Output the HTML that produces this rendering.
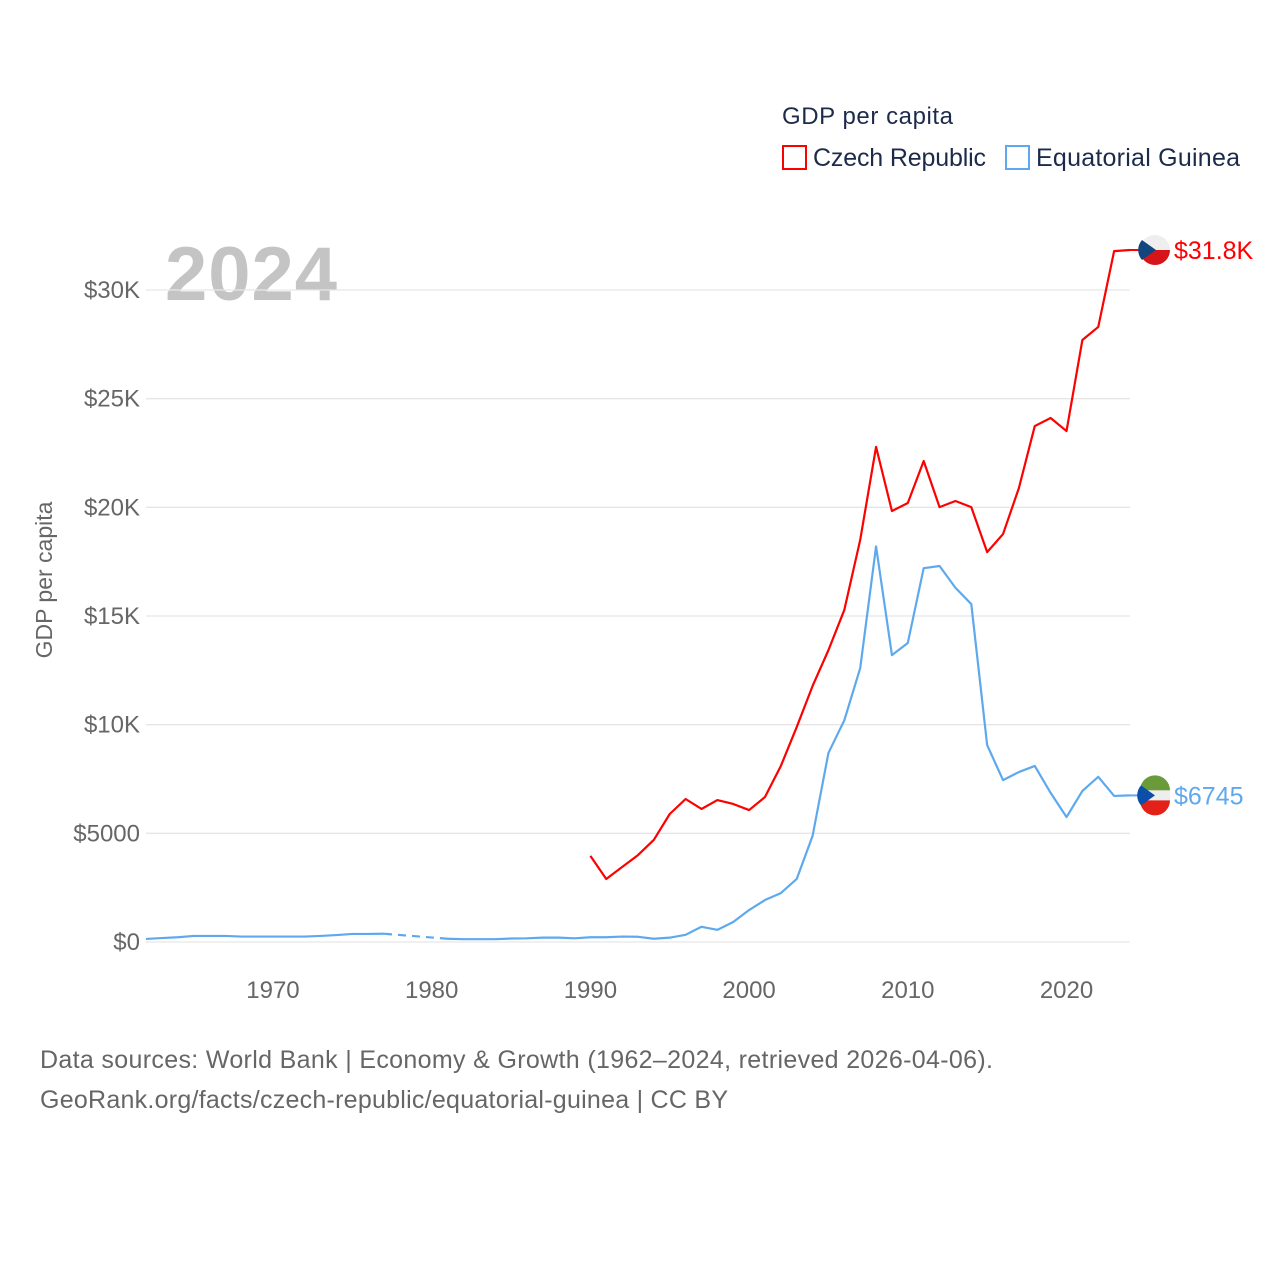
<!DOCTYPE html>
<html><head><meta charset="utf-8"><style>
body{margin:0;background:#fff;font-family:"Liberation Sans",sans-serif}
svg text{font-family:"Liberation Sans",sans-serif}
</style></head><body>
<svg id="c" width="1280" height="1280" xmlns="http://www.w3.org/2000/svg">
<text x="782" y="124" font-size="24" fill="#1d2b4a" textLength="171">GDP per capita</text>
<g><rect x="783" y="146" width="23" height="23" fill="none" stroke="#f00" stroke-width="2"/><text x="813" y="166" font-size="25" fill="#1d2b4a" textLength="173">Czech Republic</text></g>
<g><rect x="1006" y="146" width="23" height="23" fill="none" stroke="#5ea9ee" stroke-width="2"/><text x="1036" y="166" font-size="25" fill="#1d2b4a" textLength="204">Equatorial Guinea</text></g>
<text x="165" y="300" font-size="76" font-weight="bold" fill="#c4c4c4" textLength="172">2024</text>
<text transform="translate(52,580) rotate(-90)" text-anchor="middle" font-size="23" fill="#666">GDP per capita</text>
<g id="grid"></g><g id="series"></g>
<text x="40" y="1068" font-size="25" fill="#666" textLength="953">Data sources: World Bank | Economy &amp; Growth (1962–2024, retrieved 2026-04-06).</text>
<text x="40" y="1108" font-size="25" fill="#666" textLength="688">GeoRank.org/facts/czech-republic/equatorial-guinea | CC BY</text>
</svg>
<script>
const yTicks=[0,5000,10000,15000,20000,25000,30000];
const yTickLabels=["$0","$5000","$10K","$15K","$20K","$25K","$30K"];
const xTicks=[1970,1980,1990,2000,2010,2020];
const egYears=[];for(let y=1962;y<=2024;y++)egYears.push(y);
const egValues=[140,180,220,280,280,280,250,250,250,250,250,280,320,370,370,380,null,null,null,150,130,130,130,160,170,200,200,170,220,220,250,240,150,200,330,700,560,920,1470,1930,2250,2900,4880,8700,10200,12600,18200,13200,13760,17200,17300,16300,15550,9060,7450,7820,8100,6860,5750,6950,7600,6720,6745];
const czYears=[];for(let y=1990;y<=2024;y++)czYears.push(y);
const czValues=[3960,2900,3450,4000,4700,5890,6580,6120,6530,6350,6070,6670,8100,9890,11780,13430,15280,18500,22780,19830,20200,22130,20010,20290,20010,17940,18770,20890,23740,24110,23510,27700,28300,31790,31840];
const X=y=>146+(y-1962)*(1130-146)/62;
const Y=v=>942-v*(652/30000);
const NS="http://www.w3.org/2000/svg";
function mk(t,a,p){const e=document.createElementNS(NS,t);for(const k in a)e.setAttribute(k,a[k]);p.appendChild(e);return e;}
const g=document.getElementById('grid');
yTicks.forEach((v,i)=>{
 const l=mk('line',{x1:146,x2:1130,y1:Y(v),y2:Y(v),stroke:'#e6e6e6','stroke-width':1.3},g);
 
 
 const t=mk('text',{x:140,y:Y(v)+8,'text-anchor':'end','font-size':24,fill:'#666'},g);t.textContent=yTickLabels[i];
 
 
});
xTicks.forEach(v=>{
 const t=mk('text',{x:X(v),y:998,'text-anchor':'middle','font-size':24,fill:'#666'},g);t.textContent=v;
 
 
});
const s=document.getElementById('series');
function draw(years,vals,color,name){
 let seg=[],segs=[];
 years.forEach((yr,i)=>{if(vals[i]==null){if(seg.length)segs.push(seg);seg=[];}else seg.push([X(yr),Y(vals[i])]);});
 if(seg.length)segs.push(seg);
 segs.forEach(sg=>{const p=mk('path',{d:'M'+sg.map(q=>q.join(',')).join('L'),fill:'none',stroke:color,'stroke-width':2.2,'stroke-linejoin':'round'},s);
  
  });
 for(let i=0;i<segs.length-1;i++){const a=segs[i][segs[i].length-1],b=segs[i+1][0];
  const d=mk('line',{x1:a[0],y1:a[1],x2:b[0],y2:b[1],stroke:color,'stroke-width':2.2,'stroke-dasharray':'8 6'},s);
  
  }
}
draw(egYears,egValues,'#5ea9ee','equatorial-guinea');
draw(czYears,czValues,'#f00','czech-republic');
function endLabel(val,color,label,name,flag){
 const y=Y(val);
 mk('line',{x1:1130,x2:1140,y1:y,y2:y,stroke:color,'stroke-width':2},s);
 const f=mk('g',{},s);
 
 
 const cx=1155,r=15;
 if(flag==='cz'){
  mk('path',{d:`M${cx-r},${y}A${r},${r} 0 0 1 ${cx+r},${y}Z`,fill:'#eee'},f);
  mk('path',{d:`M${cx-r},${y}A${r},${r} 0 0 0 ${cx+r},${y}Z`,fill:'#d7141a'},f);
  mk('path',{d:`M${cx-r+2},${y-10}L${cx+1},${y}L${cx-r+2},${y+10}A${r},${r} 0 0 1 ${cx-r+2},${y-10}Z`,fill:'#11457e'},f);
 }else{
  mk('path',{d:`M${cx-r},${y-5}A${r},${r} 0 0 1 ${cx+r},${y-5}Z`,fill:'#6a9a3a'},f);
  mk('rect',{x:cx-r,y:y-5,width:2*r,height:10,fill:'#eee'},f);
  mk('path',{d:`M${cx-r},${y+5}A${r},${r} 0 0 0 ${cx+r},${y+5}Z`,fill:'#e32118'},f);
  mk('path',{d:`M${cx-r+1},${y-10}L${cx},${y}L${cx-r+1},${y+10}A${r},${r} 0 0 1 ${cx-r+1},${y-10}Z`,fill:'#0b4fa8'},f);
 }
 const t=mk('text',{x:1174,y:y+9,'font-size':25,fill:color},s);t.textContent=label;
 
 
}
endLabel(czValues[czValues.length-1],'#f00','$31.8K','czech-republic','cz');
endLabel(egValues[egValues.length-1],'#5ea9ee','$6745','equatorial-guinea','eg');
</script>
</body></html>
